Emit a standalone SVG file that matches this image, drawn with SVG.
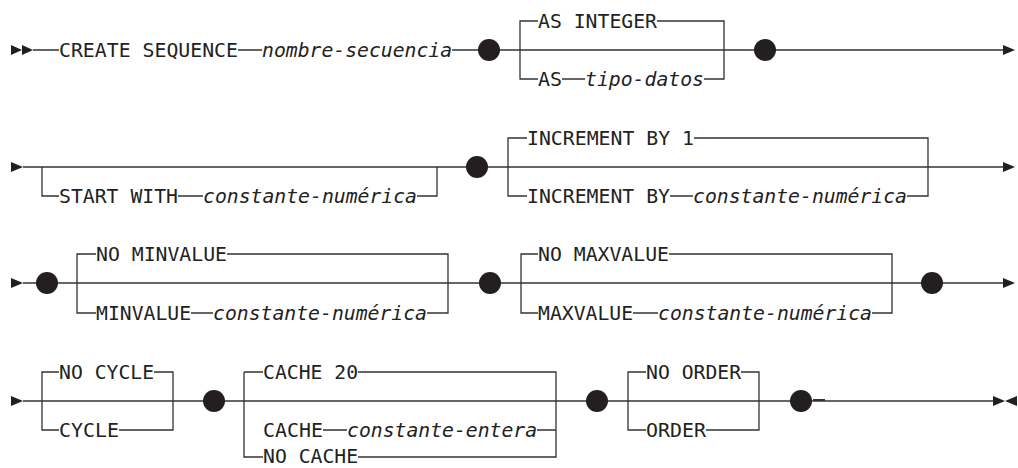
<svg xmlns="http://www.w3.org/2000/svg" width="1018" height="468" viewBox="0 0 1018 468">
<style>
.ln{fill:none;stroke:#333;stroke-width:1.3}
.kw{font-family:"DejaVu Sans Mono","Liberation Mono",monospace;font-size:20px;fill:#222}
.it{font-family:"DejaVu Sans Mono","Liberation Mono",monospace;font-size:20px;font-style:italic;fill:#222}
.dot{fill:#231f20}
.mk{fill:#231f20}
</style>
<rect width="1018" height="468" fill="#fff"/>
<g id="connectors">
<path class="ln" d="M33,50H59M238,50H262M452,50H1003"/>
<path class="ln" d="M520,50V21H538M657,21H724V79H704M520,50V79H538M562,79H585"/>
<path class="ln" d="M23,167H1003"/>
<path class="ln" d="M42,167V196H59M178,196H203M417,196H437V167"/>
<path class="ln" d="M508,167V138H527M694,138H928V196H907M508,167V196H527M670,196H693"/>
<path class="ln" d="M23,283H1003"/>
<path class="ln" d="M77,283V254H96M227,254H448V313H427M77,283V313H96M191,313H213"/>
<path class="ln" d="M521,283V254H538M669,254H892V313H872M521,283V313H538M633,313H658"/>
<path class="ln" d="M23,401H993"/>
<path class="ln" d="M42,401V372H59M154,372H173V430H119M42,401V430H59"/>
<path class="ln" d="M244,372V457H263M244,372H263M358,372H556V457H358M323,430H347M537,430H556"/>
<path class="ln" d="M628,401V372H646M741,372H759V430H706M628,401V430H646"/>
<path d="M813,400H825" stroke="#333" stroke-width="2"/>
</g>
<g id="start1"><polygon class="mk" points="11,45 22,50 11,55"/><polygon class="mk" points="22,45 33,50 22,55"/></g>
<g id="t-create"><text class="kw" x="59" y="57.3" textLength="179" lengthAdjust="spacingAndGlyphs">CREATE SEQUENCE</text></g>
<g id="t-nombre"><text class="it" x="262" y="57.3" textLength="190" lengthAdjust="spacingAndGlyphs">nombre-secuencia</text></g>
<g id="d1"><circle class="dot" cx="489" cy="50" r="11"/></g>
<g id="t-asint"><text class="kw" x="538" y="28.3" textLength="119" lengthAdjust="spacingAndGlyphs">AS INTEGER</text></g>
<g id="t-as"><text class="kw" x="538" y="86.3" textLength="24" lengthAdjust="spacingAndGlyphs">AS</text></g>
<g id="t-tipo"><text class="it" x="585" y="86.3" textLength="119" lengthAdjust="spacingAndGlyphs">tipo-datos</text></g>
<g id="d2"><circle class="dot" cx="765" cy="50" r="11"/></g>
<g id="end1"><polygon class="mk" points="1003,45 1015,50 1003,55"/></g>

<g id="start2"><polygon class="mk" points="11,162 23,167 11,172"/></g>
<g id="t-start"><text class="kw" x="59" y="203.3" textLength="119" lengthAdjust="spacingAndGlyphs">START WITH</text></g>
<g id="t-cn1"><text class="it" x="203" y="203.3" textLength="214" lengthAdjust="spacingAndGlyphs">constante-numérica</text></g>
<g id="d3"><circle class="dot" cx="477" cy="167" r="11"/></g>
<g id="t-inc1"><text class="kw" x="527" y="145.3" textLength="167" lengthAdjust="spacingAndGlyphs">INCREMENT BY 1</text></g>
<g id="t-inc"><text class="kw" x="527" y="203.3" textLength="143" lengthAdjust="spacingAndGlyphs">INCREMENT BY</text></g>
<g id="t-cn2"><text class="it" x="693" y="203.3" textLength="214" lengthAdjust="spacingAndGlyphs">constante-numérica</text></g>
<g id="end2"><polygon class="mk" points="1003,162 1015,167 1003,172"/></g>

<g id="start3"><polygon class="mk" points="11,278 23,283 11,288"/></g>
<g id="d4"><circle class="dot" cx="47" cy="283" r="11"/></g>
<g id="t-nominv"><text class="kw" x="96" y="261.3" textLength="131" lengthAdjust="spacingAndGlyphs">NO MINVALUE</text></g>
<g id="t-minv"><text class="kw" x="96" y="320.3" textLength="95" lengthAdjust="spacingAndGlyphs">MINVALUE</text></g>
<g id="t-cn3"><text class="it" x="213" y="320.3" textLength="214" lengthAdjust="spacingAndGlyphs">constante-numérica</text></g>
<g id="d5"><circle class="dot" cx="490" cy="283" r="11"/></g>
<g id="t-nomaxv"><text class="kw" x="538" y="261.3" textLength="131" lengthAdjust="spacingAndGlyphs">NO MAXVALUE</text></g>
<g id="t-maxv"><text class="kw" x="538" y="320.3" textLength="95" lengthAdjust="spacingAndGlyphs">MAXVALUE</text></g>
<g id="t-cn4"><text class="it" x="658" y="320.3" textLength="214" lengthAdjust="spacingAndGlyphs">constante-numérica</text></g>
<g id="d6"><circle class="dot" cx="932" cy="283" r="11"/></g>
<g id="end3"><polygon class="mk" points="1003,278 1015,283 1003,288"/></g>

<g id="start4"><polygon class="mk" points="11,396 23,401 11,406"/></g>
<g id="t-nocycle"><text class="kw" x="59" y="379.3" textLength="95" lengthAdjust="spacingAndGlyphs">NO CYCLE</text></g>
<g id="t-cycle"><text class="kw" x="59" y="437.3" textLength="60" lengthAdjust="spacingAndGlyphs">CYCLE</text></g>
<g id="d7"><circle class="dot" cx="214" cy="401" r="11"/></g>
<g id="t-cache20"><text class="kw" x="263" y="379.3" textLength="95" lengthAdjust="spacingAndGlyphs">CACHE 20</text></g>
<g id="t-cache"><text class="kw" x="263" y="437.3" textLength="60" lengthAdjust="spacingAndGlyphs">CACHE</text></g>
<g id="t-ce"><text class="it" x="347" y="437.3" textLength="190" lengthAdjust="spacingAndGlyphs">constante-entera</text></g>
<g id="t-nocache"><text class="kw" x="263" y="463" textLength="95" lengthAdjust="spacingAndGlyphs">NO CACHE</text></g>
<g id="d8"><circle class="dot" cx="597" cy="401" r="11"/></g>
<g id="t-noorder"><text class="kw" x="646" y="379.3" textLength="95" lengthAdjust="spacingAndGlyphs">NO ORDER</text></g>
<g id="t-order"><text class="kw" x="646" y="437.3" textLength="60" lengthAdjust="spacingAndGlyphs">ORDER</text></g>
<g id="d9"><circle class="dot" cx="801" cy="401" r="11"/></g>
<g id="end4"><polygon class="mk" points="993,396 1005,401 993,406"/><polygon class="mk" points="1017,396 1005,401 1017,406"/></g>
</svg>
